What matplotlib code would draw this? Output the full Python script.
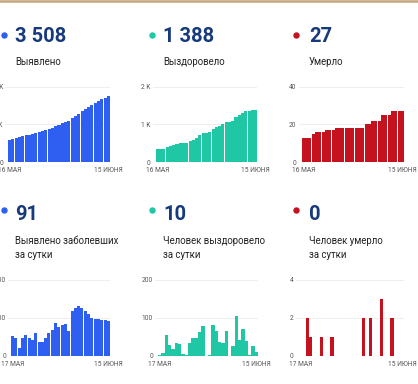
import matplotlib.pyplot as plt
from matplotlib.lines import Line2D

W, H = 418, 384

dates_total = ["16 МАЯ", "15 ИЮНЯ"]
dates_daily = ["17 МАЯ", "15 ИЮНЯ"]

# cumulative, 16 May - 15 June
detected_total = [1202, 1254, 1300, 1321, 1367, 1421, 1469, 1511, 1572, 1608, 1644,
                  1692, 1751, 1818, 1905, 1982, 2062, 2145, 2209, 2326, 2452, 2582,
                  2709, 2826, 2936, 3035, 3132, 3228, 3323, 3417, 3508]
recovered_total = [343, 345, 353, 407, 434, 452, 485, 515, 519, 520, 554, 602, 648,
                   710, 788, 788, 790, 870, 934, 969, 1003, 1068, 1068, 1094, 1199,
                   1240, 1310, 1350, 1352, 1378, 1388]
deaths_total = [13, 13, 13, 15, 16, 16, 16, 17, 17, 17, 18, 18, 18, 18, 18, 18, 18,
                18, 18, 20, 20, 22, 22, 22, 25, 25, 25, 27, 27, 27, 27]

# per day, 17 May - 15 June
detected_daily = [52, 46, 21, 46, 54, 48, 42, 61, 36, 36, 48, 59, 67, 87, 77, 80, 83,
                  64, 117, 126, 130, 127, 117, 110, 99, 97, 96, 95, 94, 91]
recovered_daily = [2, 8, 54, 27, 18, 33, 30, 4, 1, 34, 48, 46, 62, 78, 0, 2, 80, 64,
                   35, 34, 65, 0, 26, 105, 41, 70, 40, 2, 26, 10]
deaths_daily = [0, 0, 2, 1, 0, 0, 1, 0, 0, 1, 0, 0, 0, 0, 0, 0, 0, 0, 2, 0, 2, 0, 0,
                3, 0, 0, 2, 0, 0, 0]

BLUE = "#2f5ff0"
TEAL = "#1fc7a4"
RED = "#c5121f"
NAVY = "#163a7c"

plt.rcParams["font.family"] = ["Roboto", "DejaVu Sans"]

fig = plt.figure(figsize=(W / 100, H / 100), dpi=100)
fig.patch.set_facecolor("white")


def fx(x):
    return x / W


def fy(y):
    return 1 - y / H


def panel(values, color, number, label_lines, dot_x, text_x, dot_y, num_y, label_ys,
          bar_l, bar_r, base, top, yticks, ylabels, dates):
    fig.add_artist(Line2D([fx(dot_x)], [fy(dot_y)], marker="o", ms=3.6, color=color,
                          transform=fig.transFigure))
    fig.text(fx(text_x), fy(num_y), number, fontsize=14.5, fontweight="bold",
             color=NAVY, va="baseline", ha="left")
    for line, ly in zip(label_lines, label_ys):
        fig.text(fx(text_x), fy(ly), line, fontsize=6.9, color="#222222",
                 va="baseline", ha="left")

    n = len(values)
    pitch = (bar_r - bar_l) / n
    left = bar_l - 3
    ax = fig.add_axes([fx(left), fy(base), fx(bar_r - left), (base - top) / H])
    ax.bar(range(n), values, width=0.92, color=color, linewidth=0, zorder=2)
    ax.set_xlim(-0.5 - 3 / pitch, n - 0.5)
    ax.set_ylim(0, yticks[-1])
    ax.set_yticks(yticks)
    ax.set_yticklabels(ylabels)
    ax.set_xticks([0, n - 1])
    ax.set_xticklabels(dates)
    ax.grid(axis="y", color="#ebebeb", linewidth=0.6, zorder=0)
    ax.tick_params(length=0, labelsize=4.8, colors="#555555", pad=1.5)
    ax.tick_params(axis="x", pad=3.5)
    for s in ax.spines.values():
        s.set_visible(False)
    ax.patch.set_alpha(0)


# top row
panel(detected_total, BLUE, "3 508", ["Выявлено"], 3.5, 15, 34.5, 42, [65],
      8, 110, 162.3, 86.7, [0, 2000, 4000], ["0", "2 K", "4 K"], dates_total)
panel(recovered_total, TEAL, "1 388", ["Выздоровело"], 151.5, 163, 34.5, 42, [65],
      155.7, 257.3, 162.3, 86.7, [0, 1000, 2000], ["0", "1 K", "2 K"], dates_total)
panel(deaths_total, RED, "27", ["Умерло"], 296, 309, 34.5, 42, [65],
      301.7, 404, 162.3, 86.7, [0, 20, 40], ["0", "20", "40"], dates_total)

# bottom row
panel(detected_daily, BLUE, "91", ["Выявлено заболевших", "за сутки"], 3.5, 15, 210, 220,
      [244, 257.5], 11, 110, 355.7, 280, [0, 100, 200], ["0", "100", "200"], dates_daily)
panel(recovered_daily, TEAL, "10", ["Человек выздоровело", "за сутки"], 151.5, 163, 210, 220,
      [244, 257.5], 158, 258, 355.7, 280, [0, 100, 200], ["0", "100", "200"], dates_daily)
panel(deaths_daily, RED, "0", ["Человек умерло", "за сутки"], 296, 309, 210, 220,
      [244, 257.5], 298.5, 404.3, 355.7, 280, [0, 2, 4], ["0", "2", "4"], dates_daily)

# thin tan strip at the very top of the screenshot
fig.add_artist(Line2D([0, 1], [fy(0.8), fy(0.8)], lw=1.8, color="#c4a67c",
                      transform=fig.transFigure))

fig.savefig("out.png", dpi=100)
